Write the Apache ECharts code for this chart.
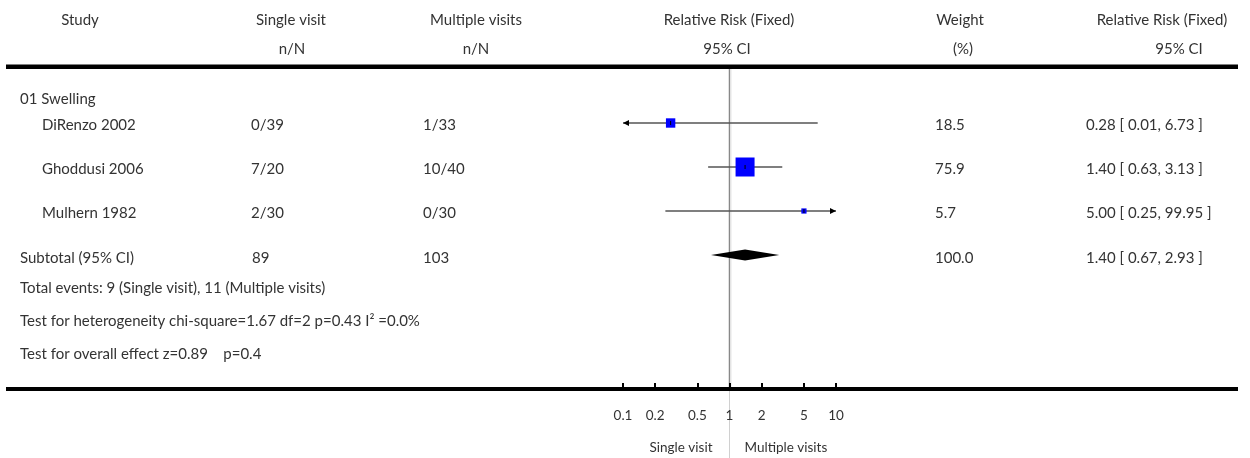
<!DOCTYPE html>
<html><head><meta charset="utf-8">
<script src="https://cdn.jsdelivr.net/npm/echarts@6/dist/echarts.min.js"></script>
<style>html,body{margin:0;padding:0;background:#fff}#c{width:1250px;height:458px}</style>
</head><body><div id="c"></div>
<script>
// ---- data ----
const groupTitle = '01 Swelling';
const studies = ['DiRenzo 2002', 'Ghoddusi 2006', 'Mulhern 1982'];
const singleNN = ['0/39', '7/20', '2/30'];
const multiNN = ['1/33', '10/40', '0/30'];
const rr = [0.28, 1.40, 5.00];
const ciLow = [0.01, 0.63, 0.25];
const ciHigh = [6.73, 3.13, 99.95];
const weight = [18.5, 75.9, 5.7];
const subtotalLabel = 'Subtotal (95% CI)';
const subtotalN = [89, 103];
const subtotalRR = [1.40, 0.67, 2.93];
const subtotalWeight = 100.0;
const footerLines = [
  'Total events: 9 (Single visit), 11 (Multiple visits)',
  'Test for heterogeneity chi-square=1.67 df=2 p=0.43 I\u00B2 =0.0%',
  'Test for overall effect z=0.89    p=0.4'
];
const tickValues = [0.1, 0.2, 0.5, 1, 2, 5, 10];
const tickLabels = ['0.1', '0.2', '0.5', '1', '2', '5', '10'];
const favourLabels = ['Single visit', 'Multiple visits'];

// ---- layout / style ----
const FONT = 'Lato';
const TXT = '#333';
const FS = 15;
const L = Math.log10;
const PLOT_LEFT = 623, PLOT_WIDTH = 213;
const AXIS_Y = 389;
const BOX_SCALE = 19 / Math.sqrt(75.9);

const chart = echarts.init(document.getElementById('c'), null, {renderer: 'canvas'});

function renderStudy(params, api) {
  const x = api.value(0), y = api.value(1), lo = api.value(2), hi = api.value(3), w = api.value(4);
  const loC = Math.max(lo, -1), hiC = Math.min(hi, 1);
  const p = api.coord([x, y]);
  const pL = api.coord([loC, y]), pR = api.coord([hiC, y]);
  const ch = [];
  ch.push({type: 'line', shape: {x1: pL[0], y1: p[1], x2: pR[0], y2: p[1]}, style: {stroke: '#555', lineWidth: 1.5}});
  if (lo < -1) ch.push({type: 'polygon', shape: {points: [[pL[0], p[1]], [pL[0] + 6, p[1] - 3], [pL[0] + 6, p[1] + 3]]}, style: {fill: '#000'}});
  if (hi > 1) ch.push({type: 'polygon', shape: {points: [[pR[0], p[1]], [pR[0] - 6, p[1] - 3], [pR[0] - 6, p[1] + 3]]}, style: {fill: '#000'}});
  const s = BOX_SCALE * Math.sqrt(w);
  ch.push({type: 'rect', shape: {x: p[0] - s / 2, y: p[1] - s / 2, width: s, height: s}, style: {fill: '#0000ff'}});
  ch.push({type: 'line', shape: {x1: p[0], y1: p[1] - 2, x2: p[0], y2: p[1] + 2}, style: {stroke: '#000', lineWidth: 1}});
  return {type: 'group', children: ch};
}
function renderDiamond(params, api) {
  const x = api.value(0), y = api.value(1), lo = api.value(2), hi = api.value(3);
  const p = api.coord([x, y]), pL = api.coord([lo, y]), pR = api.coord([hi, y]);
  return {type: 'polygon', shape: {points: [[pL[0], p[1]], [p[0], p[1] - 5.5], [pR[0], p[1]], [p[0], p[1] + 5.5]]}, style: {fill: '#000'}};
}

const studyData = studies.map((s, i) => [L(rr[i]), i + 1, L(ciLow[i]), L(ciHigh[i]), weight[i]]);
const diamondData = [[L(subtotalRR[0]), studies.length + 1, L(subtotalRR[1]), L(subtotalRR[2])]];

const findLabel = v => {
  const k = tickValues.findIndex(t => Math.abs(L(t) - v) < 1e-6);
  return k >= 0 ? tickLabels[k] : '';
};

chart.setOption({
  animation: false,
  grid: [
    {left: PLOT_LEFT, width: PLOT_WIDTH, top: 68, bottom: 0},
    {left: PLOT_LEFT, width: PLOT_WIDTH, top: 68, bottom: 458 - AXIS_Y}
  ],
  xAxis: [
    {gridIndex: 0, type: 'value', min: -1, max: 1, show: false},
    {gridIndex: 1, type: 'value', min: -1, max: 1,
      axisLine: {show: false}, splitLine: {show: false},
      axisTick: {show: true, inside: true, length: 6, customValues: tickValues.map(L), lineStyle: {color: '#000', width: 2}},
      axisLabel: {show: true, customValues: tickValues.map(L), formatter: findLabel, margin: 20,
        color: TXT, fontFamily: FONT, fontSize: 13.5, verticalAlign: 'top'}}
  ],
  yAxis: [
    {gridIndex: 0, type: 'value', inverse: true, min: -0.25, max: 8.6136, show: false},
    {gridIndex: 1, type: 'value', min: 0, max: 1, show: false}
  ],
  series: [
    {type: 'custom', xAxisIndex: 0, yAxisIndex: 0, renderItem: renderStudy, data: studyData, clip: false, silent: true},
    {type: 'custom', xAxisIndex: 0, yAxisIndex: 0, renderItem: renderDiamond, data: diamondData, clip: false, silent: true},
    {type: 'scatter', xAxisIndex: 1, yAxisIndex: 1, data: [], silent: true}
  ]
});

function rowY(idx) { return chart.convertToPixel({gridIndex: 0}, [0, idx])[1]; }
const zeroX = chart.convertToPixel({gridIndex: 0}, [0, 0])[0];

const g = [];
function t(text, x, y, align, size) {
  g.push({type: 'text', x: x, y: y, style: {text: text, fill: TXT, font: (size || FS) + 'px ' + FONT, align: align || 'left', verticalAlign: 'middle'}, silent: true});
}
// reference line
g.push({type: 'line', shape: {x1: zeroX, y1: 68, x2: zeroX, y2: AXIS_Y}, style: {stroke: '#888', lineWidth: 1.5}});
g.push({type: 'line', shape: {x1: zeroX + 1.5, y1: 68, x2: zeroX + 1.5, y2: AXIS_Y}, style: {stroke: '#e6e6e6', lineWidth: 1}});
g.push({type: 'line', shape: {x1: zeroX, y1: AXIS_Y, x2: zeroX, y2: 458}, style: {stroke: '#d0d0d0', lineWidth: 1}});
// thick rules
g.push({type: 'rect', shape: {x: 6, y: 64.5, width: 1232, height: 4.5}, style: {fill: '#000'}});
g.push({type: 'rect', shape: {x: 6, y: AXIS_Y - 2, width: 1232, height: 4}, style: {fill: '#000'}});

// headers
t('Study', 80, 20, 'center');
t('Single visit', 291, 20, 'center');
t('n/N', 292, 49, 'center');
t('Multiple visits', 476, 20, 'center');
t('n/N', 476, 49, 'center');
t('Relative Risk (Fixed)', 729, 20, 'center');
t('95% CI', 727, 49, 'center');
t('Weight', 960, 20, 'center');
t('(%)', 963, 49, 'center');
t('Relative Risk (Fixed)', 1162, 20, 'center');
t('95% CI', 1179, 49, 'center');

// group title
t(groupTitle, 20, 99, 'left');
studies.forEach((s, i) => {
  const y = rowY(i + 1) + 2.5;
  t(s, 42, y, 'left');
  t(singleNN[i], 251, y, 'left');
  t(multiNN[i], 423, y, 'left');
  t(weight[i].toFixed(1), 935, y, 'left');
  t(rr[i].toFixed(2) + ' [ ' + ciLow[i].toFixed(2) + ', ' + ciHigh[i].toFixed(2) + ' ]', 1086, y, 'left');
});
const ys = rowY(studies.length + 1) + 3.5;
t(subtotalLabel, 20, ys, 'left');
t(String(subtotalN[0]), 252, ys, 'left');
t(String(subtotalN[1]), 423, ys, 'left');
t(subtotalWeight.toFixed(1), 935, ys, 'left');
t(subtotalRR[0].toFixed(2) + ' [ ' + subtotalRR[1].toFixed(2) + ', ' + subtotalRR[2].toFixed(2) + ' ]', 1086, ys, 'left');
footerLines.forEach((s, i) => t(s, 20, 288 + i * 33, 'left'));

t(favourLabels[0], zeroX - 17, 448, 'right', 13.5);
t(favourLabels[1], zeroX + 15, 448, 'left', 13.5);

chart.setOption({graphic: g});
</script></body></html>
